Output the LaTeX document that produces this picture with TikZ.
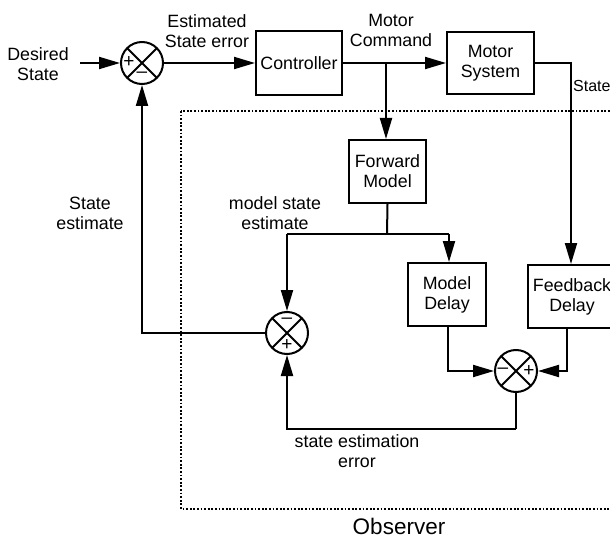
\documentclass[tikz,border=0pt]{standalone}
\usepackage{fontspec}
\setmainfont{Liberation Sans}
\usetikzlibrary{arrows.meta,calc}
\begin{document}
\begin{tikzpicture}[x=1pt,y=-1pt,
  every node/.style={font=\fontsize{17.8}{20}\selectfont, align=center},
  blk/.style={draw, line width=2pt, inner sep=0pt},
  sumnode/.style={circle, draw, line width=2pt, minimum size=42pt, inner sep=0pt,
     path picture={\draw[line width=2pt] (path picture bounding box.north west) -- (path picture bounding box.south east)
        (path picture bounding box.north east) -- (path picture bounding box.south west);}},
  sgn/.style={font=\fontsize{19}{19}\selectfont, inner sep=0pt},
  wire/.style={line width=2pt},
  arr/.style={wire, -{Triangle[length=21pt,width=12pt]}},
  lbl/.style={inner sep=0pt}
]
\useasboundingbox (0,0) rectangle (610,540);
\fill[white] (0,0) rectangle (610,540);

% observer frame
\draw[line width=1.8pt, dash pattern=on 1.8pt off 1.8pt] (181,111) rectangle (640,509);
\node[font=\fontsize{22.5}{26}\selectfont, lbl] (obs) at (399,526) {Observer};

% blocks
\node[lbl] (ds) at (38,64) {Desired\\State};
\node[sumnode] (s1) at (142,63) {};
\node[blk, minimum width=86pt, minimum height=64pt] (ctrl) at (299,63) {Controller};
\node[blk, minimum width=87pt, minimum height=62pt] (ms) at (490.5,63) {Motor\\System};
\node[blk, minimum width=77pt, minimum height=63pt] (fm) at (387.5,171.5) {Forward\\Model};
\node[blk, minimum width=78pt, minimum height=63pt] (md) at (447,294.5) {Model\\Delay};
\node[blk, minimum width=88pt, minimum height=63pt] (fd) at (572,296.5) {Feedback\\Delay};
\node[sumnode] (s2) at (287,333) {};
\node[sumnode] (s3) at (516,371) {};

% signs
\node[sgn] at ($(s1)+(-13,-1)$) {+};
\node[sgn] at ($(s1)+(0,12)$) {\textendash};
\node[sgn] at ($(s2)+(0,-12)$) {\textendash};
\node[sgn] at ($(s2)+(0,12)$) {+};
\node[sgn] at ($(s3)+(-13,0)$) {\textendash};
\node[sgn] at ($(s3)+(13,0)$) {+};

% labels
\node[lbl] (l1) at (207,31) {Estimated\\State error};
\node[lbl] (l2) at (391,30) {Motor\\Command};
\node[lbl, anchor=west, font=\fontsize{16}{18}\selectfont] (l3) at (573,86) {State};
\node[lbl] (l4) at (90,213) {State\\estimate};
\node[lbl] (l5) at (275,213) {model state\\estimate};
\node[lbl] (l6) at (357,451) {state estimation\\error};

% coordinates
\coordinate (dsout) at (80,63);
\coordinate (br) at (386,63);
\coordinate (j) at (387,234);
\coordinate (eb) at (516,429);

% connectors
\draw[arr] (dsout) -- (s1.west);
\draw[arr] (s1.east) -- (ctrl.west);
\draw[arr] (ctrl.east) -- (ms.west);
\draw[arr] (br) -- (br |- fm.north);
\draw[arr] (ms.east) -| ([xshift=-1pt]fd.north);
\draw[wire] (fm.south) -- (j);
\draw[wire] (s2.north |- j) -- ([xshift=2pt]md.north |- j);
\draw[arr] (s2.north |- j) -- (s2.north);
\draw[arr] ([xshift=2pt]md.north |- j) -- ([xshift=2pt]md.north);
\draw[arr] (s2.west) -| (s1.south);
\draw[arr] ([xshift=1pt]md.south) |- (s3.west);
\draw[arr] ([xshift=-5pt]fd.south) |- (s3.east);
\draw[wire] (s3.south) -- (eb);
\draw[arr] (eb) -| (s2.south);
\end{tikzpicture}
\end{document}
